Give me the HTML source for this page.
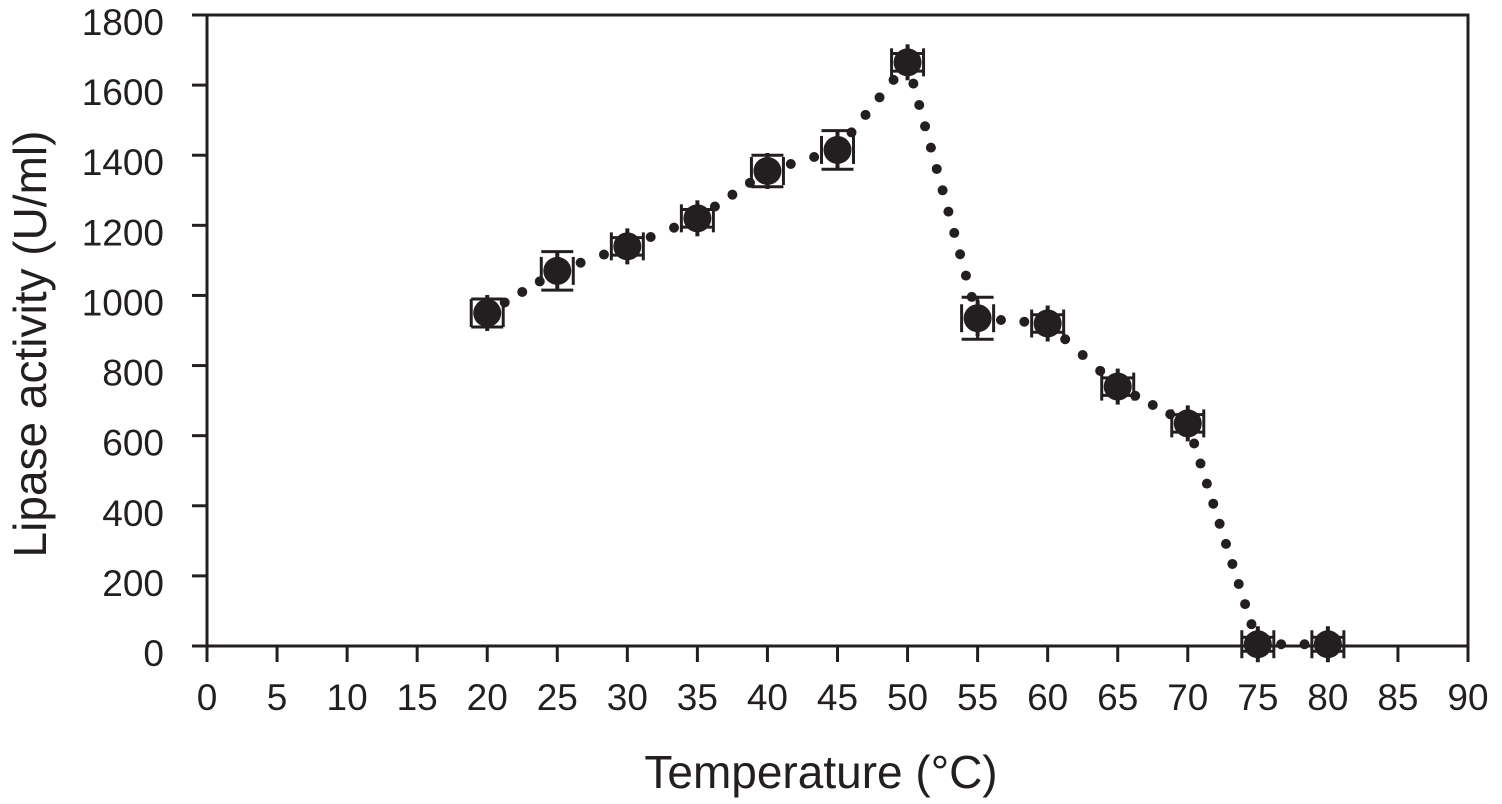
<!DOCTYPE html>
<html><head><meta charset="utf-8"><style>
html,body{margin:0;padding:0;background:#fff;}
svg text{font-family:"Liberation Sans",Arial,sans-serif;fill:#231f20;}
</style></head><body>
<svg id="chart" width="1502" height="799" xmlns="http://www.w3.org/2000/svg">
<g id="axes"></g>
<g id="series"></g>
<text x="0" y="0" font-size="46" text-anchor="middle" transform="translate(46,344) rotate(-90)">Lipase activity (U/ml)</text>
<text x="821" y="788" font-size="46" text-anchor="middle">Temperature (°C)</text>
</svg>
<script>
const temps = [20,25,30,35,40,45,50,55,60,65,70,75,80];
const activity = [950,1070,1140,1220,1355,1415,1665,935,920,740,635,5,5];
const errors = [40,55,25,25,45,55,25,60,25,25,25,20,20];
const xTicks = [0,5,10,15,20,25,30,35,40,45,50,55,60,65,70,75,80,85,90];
const yTicks = [0,200,400,600,800,1000,1200,1400,1600,1800];

const L=207,R=1468,T=15,B=646;
const xs=v=>L+(v-0)/90*(R-L);
const ys=v=>B-v/1800*(B-T);
const NS="http://www.w3.org/2000/svg";
function mk(tag,attrs,parent){const e=document.createElementNS(NS,tag);for(const k in attrs)e.setAttribute(k,attrs[k]);parent.appendChild(e);return e;}
const axes=document.getElementById('axes'),series=document.getElementById('series');

const frame=mk('rect',{x:L,y:T,width:R-L,height:B-T,fill:'none',stroke:'#231f20','stroke-width':3},axes);


yTicks.forEach(v=>{
  const y=ys(v);
  const t=mk('line',{x1:L-15,x2:L,y1:y,y2:y,stroke:'#231f20','stroke-width':3},axes);
  
  
  const tx=mk('text',{x:164,y:y+20,'font-size':37,'text-anchor':'end'},axes);
  tx.textContent=v;
  
  
});
xTicks.forEach(v=>{
  const x=xs(v);
  const t=mk('line',{x1:x,x2:x,y1:B,y2:B+16,stroke:'#231f20','stroke-width':3},axes);
  
  
  const tx=mk('text',{x:x,y:710,'font-size':37,'text-anchor':'middle'},axes);
  tx.textContent=v;
  
  
});
let pts=temps.map((t,i)=>[xs(t),ys(activity[i])]);
for(let i=0;i<pts.length-1;i++){
  const [x1,y1]=pts[i],[x2,y2]=pts[i+1];
  const len=Math.hypot(x2-x1,y2-y1);const n=Math.max(1,Math.round(len/22));
  for(let k=1;k<n;k++){
    const d=mk('circle',{cx:x1+(x2-x1)*k/n,cy:y1+(y2-y1)*k/n,r:5,fill:'#231f20'},series);
    
    
  }
}
temps.forEach((t,i)=>{
  const x=xs(t),y=ys(activity[i]),e=errors[i];
  const g=mk('g',{},series);
  
  
  const y1=ys(activity[i]+e),y2=ys(activity[i]-e);
  mk('line',{x1:x,x2:x,y1:y1,y2:y2,stroke:'#231f20','stroke-width':3},g);
  mk('line',{x1:x-16,x2:x+16,y1:y1,y2:y1,stroke:'#231f20','stroke-width':3},g);
  mk('line',{x1:x-16,x2:x+16,y1:y2,y2:y2,stroke:'#231f20','stroke-width':3},g);
  mk('line',{x1:x-16,x2:x-16,y1:y-14,y2:y+14,stroke:'#231f20','stroke-width':3},g);
  mk('line',{x1:x+16,x2:x+16,y1:y-14,y2:y+14,stroke:'#231f20','stroke-width':3},g);
  mk('circle',{cx:x,cy:y,r:14,fill:'#231f20'},g);
  mk('line',{x1:x,x2:x,y1:y-18,y2:y+18,stroke:'#231f20','stroke-width':4},g);
});
</script>
</body></html>
